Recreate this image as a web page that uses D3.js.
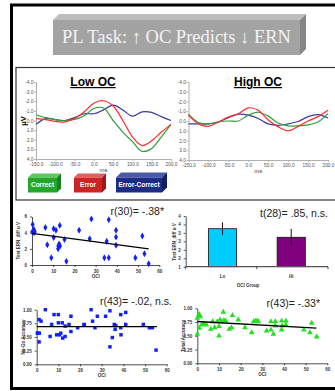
<!DOCTYPE html>
<html>
<head>
<meta charset="utf-8">
<script src="https://cdn.jsdelivr.net/npm/d3@7"></script>
<style>
  body { margin: 0; background: #fff; }
  svg { display: block; font-family: Arial, "Liberation Sans", sans-serif; }
</style>
</head>
<body>
<svg id="chart" width="335" height="391"></svg>
<script>
// ERP waveforms, one value every 25 ms
const erpTimes = [-150, -125, -100, -75, -50, -25, 0, 25, 50, 75, 100, 125, 150, 175, 200]
const erpXTicks = [-150, -100, -50, 0, 50, 100, 150, 200]
const erpYTicks = [-4, -3, -2, -1, 0, 1, 2, 3, 4]

const lowCorrect = [-0.6, -0.3, -0.1, 0.0, -0.1, -0.5, -1.25, -1.3, 0.0, 1.2, 2.2, 3.2, 2.9, 1.7, 0.4]
const lowError = [-0.2, -0.1, 0.1, 0.15, -0.2, -0.9, -1.8, -2.05, -1.5, 0.0, 1.7, 2.6, 2.1, 1.2, 0.4]
const lowDiff = [0.4, -0.2, -0.1, 0.0, -0.3, -0.7, -0.7, -1.1, -1.6, -1.1, -0.45, -0.9, -0.85, -0.4, 0.0]

const highCorrect = [-0.7, 0.15, 0.3, 0.1, 0.0, 0.0, -0.6, -0.9, -0.5, 0.2, 0.5, 0.5, 0.4, 0.1, -0.75]
const highError = [-0.6, 0.3, 0.55, 0.1, -0.4, -0.75, -1.35, -1.1, -0.1, 0.6, 1.0, 0.55, 0.0, -0.45, -1.1]
const highDiff = [0.3, 0.3, 0.3, 0.1, -0.35, -0.7, -0.6, -0.25, 0.3, 0.45, 0.3, 0.05, -0.45, -0.65, -0.3]

const legendNames = ['Correct', 'Error', 'Error-Correct']

// ERN difference by OCI
const ernOci = [0.3, 0.1, 0.9, 1.3, 6.3, 7.2, 9.1, 10.2, 10.2, 11.3, 12.4, 12.3, 13.1, 13.2, 15.3, 16.2,
  22.2, 27.2, 28.0, 34.1, 35.2, 36.2, 36.2, 39.6, 39.6, 39.6, 48.7, 52.0, 53.0, 55.0, 12.8, 1.0]
const ernDiff = [5.0, 4.1, 4.4, 4.1, 4.65, 2.5, 0.9, 4.5, 3.4, 4.3, 2.35, 2.0, 4.9, 2.35, 3.15, 0.45,
  4.3, 3.25, 5.7, 0.9, 2.95, 5.6, 0.9, 4.3, 3.45, 2.45, 0.9, 3.6, 1.4, 0.15, 2.6, 4.0]
const ernFitX = [0, 55]
const ernFitY = [3.9, 2.0]
const ernYTicks = [0, 2, 4, 6]
const ociTicks = [0, 10, 20, 30, 40, 50, 60]

// OCI group bars
const groups = ['Lo', 'Hi']
const groupMeans = [3.25, 2.74]
const groupErr = [0.38, 0.5]
const barTicks = [1, 1.5, 2, 2.5, 3, 3.5, 4]
const barTickLabels = ['1', '2', '2', '3', '3', '4', '4']

// No-Go accuracy by OCI
const nogoOci = [4.0, 0.5, 1.1, 2.0, 1.1, 0.3, 6.2, 6.9, 8.0, 10.0, 10.0, 9.2, 10.5, 11.1, 11.8, 12.0,
  13.1, 13.1, 14.9, 15.8, 15.8, 18.9, 21.8, 25.1, 25.8, 26.9, 28.0, 31.8, 33.8, 33.8, 34.9, 35.8,
  36.2, 38.8, 38.8, 38.9, 41.1, 41.1, 49.2, 52.0, 53.4, 55.1, 1.2, 36.5, 22.0]
const nogoAcc = [1.0, 0.57, 0.82, 0.79, 0.41, 0.57, 0.51, 0.73, 0.91, 0.91, 0.76, 0.54, 0.54, 0.57, 0.76, 0.48,
  0.51, 0.70, 0.73, 0.88, 0.60, 0.67, 0.73, 1.0, 0.79, 0.67, 0.88, 0.88, 0.98, 0.32, 0.49, 0.73,
  0.64, 0.91, 0.67, 0.54, 0.95, 0.73, 0.73, 0.67, 0.67, 0.26, 0.57, 0.71, 0.72]
const nogoFitX = [0, 55.5]
const nogoFitY = [0.69, 0.69]

// Total accuracy by OCI
const totOci = [0, 0, 0.8, 1.1, 1.4, 0.9, 2.0, 4.2, 6.2, 7.1, 8.0, 9.2, 10.0, 10.0, 10.5, 12.0,
  11.2, 13.1, 14.8, 15.8, 16.2, 18.9, 22.0, 25.1, 26.0, 26.9, 28.2, 32.0, 34.0, 34.0, 35.1, 36.0,
  36.0, 38.9, 38.9, 39.2, 40.9, 40.9, 49.2, 52.0, 52.8, 55.1, 12.3, 3.0, 27.5]
const totAcc = [0.82, 0.53, 0.89, 0.86, 0.85, 0.64, 0.70, 0.70, 0.62, 0.76, 0.65, 0.76, 0.50, 0.67, 0.79, 0.93,
  0.76, 0.77, 0.62, 0.65, 0.87, 0.79, 0.65, 0.56, 0.76, 0.77, 0.76, 0.59, 0.76, 0.61, 0.53, 0.76,
  0.68, 0.77, 0.61, 0.68, 0.77, 0.70, 0.61, 0.56, 0.73, 0.48, 0.78, 0.72, 0.77]
const totFitX = [0, 55]
const totFitY = [0.76, 0.64]
const accTicks = [0, 0.25, 0.5, 0.75, 1]

const svg = d3.select('#chart')

// frames
svg.append('rect').attr('x', 11.5).attr('y', 5).attr('width', 340).attr('height', 383.5)
  .attr('fill', '#fff').attr('stroke', '#000').attr('stroke-width', 3)
svg.append('rect').attr('x', 16).attr('y', 67.5).attr('width', 330).attr('height', 132.5)
  .attr('fill', '#fff').attr('stroke', '#333').attr('stroke-width', 1.2)

let box3d = function (x, y, w, h, d, front, top, side, label, size, color) {
  let g = svg.append('g')
  g.append('polygon').attr('points', `${x},${y} ${x + d},${y - d} ${x + w + d},${y - d} ${x + w},${y}`).attr('fill', top)
  g.append('polygon').attr('points', `${x + w},${y} ${x + w + d},${y - d} ${x + w + d},${y + h - d} ${x + w},${y + h}`).attr('fill', side)
  g.append('rect').attr('x', x).attr('y', y).attr('width', w).attr('height', h).attr('fill', front)
  return g.append('text').attr('x', x + w / 2).attr('y', y + h / 2).attr('dy', '0.35em')
    .attr('text-anchor', 'middle').attr('font-size', size).attr('fill', color).text(label)
}

// title banner
box3d(53, 20, 247, 35, 6, '#a3a3a3', '#bdbdbd', '#858585', 'PL Task: \u2191 OC Predicts \u2193 ERN', 18.5, '#f4f4f4')
  .attr('font-family', '"Liberation Serif", "DejaVu Serif", serif').attr('dy', '0.32em')

// ERP panels
let drawErp = function (opt) {
  let x = d3.scaleLinear().domain([-150, 200]).range([opt.left, opt.right])
  let y = d3.scaleLinear().domain([-4, 4]).range([opt.top, opt.bottom])
  let gy = svg.append('g').attr('transform', `translate(${opt.left},0)`)
    .call(d3.axisLeft(y).tickValues(erpYTicks).tickFormat(d => d.toFixed(1)).tickSize(2).tickSizeOuter(0))
  let gx = svg.append('g').attr('transform', `translate(0,${opt.bottom})`)
    .call(d3.axisBottom(x).tickValues(erpXTicks).tickFormat(d => d.toFixed(1)).tickSize(2).tickSizeOuter(0))
  for (let g of [gx, gy]) {
    g.selectAll('path,line').attr('stroke', '#b0b0b0')
    g.selectAll('text').attr('font-size', 4.8).attr('fill', '#555')
  }
  gy.selectAll('text').attr('x', -2.5)
  gx.selectAll('text').attr('y', 3.5)
  svg.append('text').attr('x', (opt.left + opt.right) / 2).attr('y', opt.bottom + 13)
    .attr('text-anchor', 'middle').attr('font-size', 6).attr('fill', '#444').text('ms')
  svg.append('text').attr('x', opt.titleX).attr('y', 86).attr('text-anchor', 'middle')
    .attr('font-size', 12).attr('font-weight', 'bold').style('text-decoration', 'underline').text(opt.title)
  let line = d3.line().x((d, i) => x(erpTimes[i])).y(d => y(d)).curve(d3.curveCatmullRom.alpha(0.5))
  opt.series.forEach(s => {
    svg.append('path').datum(s.vals).attr('d', line).attr('fill', 'none')
      .attr('stroke', s.color).attr('stroke-width', 1.2)
  })
}

drawErp({ left: 36, right: 171, top: 82, bottom: 159, title: 'Low OC', titleX: 93,
  series: [{ vals: lowDiff, color: '#3a3aa0' }, { vals: lowCorrect, color: '#2f9e38' }, { vals: lowError, color: '#ff2a2a' }] })
drawErp({ left: 188.5, right: 328, top: 82, bottom: 160, title: 'High OC', titleX: 258,
  series: [{ vals: highDiff, color: '#3a3aa0' }, { vals: highCorrect, color: '#2f9e38' }, { vals: highError, color: '#ff2a2a' }] })

svg.append('text').attr('transform', 'translate(26,121) rotate(-90)').attr('text-anchor', 'middle')
  .attr('font-size', 7.5).attr('font-weight', 'bold').text('\u03bcV')

// legend buttons
const legendStyle = [
  { x: 28, w: 29, d: 4, front: '#24a62c', top: '#5cc85f', side: '#1b7f22' },
  { x: 74, w: 28, d: 4, front: '#cc2424', top: '#e0605c', side: '#9a1a1a' },
  { x: 116, w: 46, d: 5, front: '#1c2c86', top: '#4a5aa8', side: '#121e60' }
]
legendNames.forEach((n, i) => {
  let s = legendStyle[i]
  box3d(s.x, 177.5, s.w, 15, s.d, s.front, s.top, s.side, n, 6.5, '#fff').attr('font-weight', 'bold')
})

// generic small axes for the lower charts
let smallAxis = function (g) {
  g.selectAll('path,line').attr('stroke', '#222').attr('stroke-width', 0.8)
  g.selectAll('text').attr('font-size', 4.5).attr('font-weight', 'bold').attr('fill', '#333')
}

let drawScatter = function (opt) {
  let x = d3.scaleLinear().domain([0, 60]).range([opt.left, opt.right])
  let y = d3.scaleLinear().domain(opt.yDomain).range([opt.bottom, opt.top])
  let gy = svg.append('g').attr('transform', `translate(${opt.left},0)`)
    .call(d3.axisLeft(y).tickValues(opt.yTicks).tickFormat(opt.yFormat).tickSize(2).tickSizeOuter(0))
  let gx = svg.append('g').attr('transform', `translate(0,${opt.bottom})`)
    .call(d3.axisBottom(x).tickValues(ociTicks).tickSize(2).tickSizeOuter(0))
  smallAxis(gy)
  smallAxis(gx)
  gx.selectAll('text').attr('y', 5)
  svg.append('text').attr('x', x(30)).attr('y', opt.bottom + 13).attr('text-anchor', 'middle')
    .attr('font-size', 4.5).attr('font-weight', 'bold').attr('fill', '#333').text('OCI')
  svg.append('text').attr('transform', `translate(${opt.left - 12},${(opt.top + opt.bottom) / 2}) rotate(-90)`)
    .attr('text-anchor', 'middle').attr('font-size', 4.5).attr('font-weight', 'bold').attr('fill', '#333').text(opt.yLabel)
  let pts = opt.xs.map((v, i) => [v, opt.ys[i]])
  svg.append('g').selectAll('path').data(pts).join('path')
    .attr('transform', d => `translate(${x(d[0])},${y(d[1])})`)
    .attr('d', d3.symbol().type(opt.symbol).size(opt.size))
    .attr('fill', opt.color)
  svg.append('line').attr('x1', x(opt.fitX[0])).attr('x2', x(opt.fitX[1]))
    .attr('y1', y(opt.fitY[0])).attr('y2', y(opt.fitY[1])).attr('stroke', '#000').attr('stroke-width', 1.3)
  svg.append('text').attr('x', opt.statX).attr('y', opt.statY).attr('text-anchor', 'end')
    .attr('font-size', 10.5).attr('fill', '#222').text(opt.stat)
}

drawScatter({ left: 32, right: 159.3, top: 216.5, bottom: 265, yDomain: [0, 6], yTicks: ernYTicks,
  yFormat: d3.format('d'), yLabel: 'Test ERN_diff u V', xs: ernOci, ys: ernDiff, fitX: ernFitX, fitY: ernFitY,
  symbol: d3.symbolDiamond, size: 14, color: '#1020ff', stat: 'r(30)= -.38*', statX: 164, statY: 215 })

drawScatter({ left: 36.7, right: 166.7, top: 309.7, bottom: 364.3, yDomain: [0, 1], yTicks: accTicks,
  yFormat: d3.format('.2f'), yLabel: 'No-Go Accuracy', xs: nogoOci, ys: nogoAcc, fitX: nogoFitX, fitY: nogoFitY,
  symbol: d3.symbolSquare, size: 12, color: '#1020ff', stat: 'r(43)= -.02, n.s.', statX: 172, statY: 305 })

drawScatter({ left: 197.3, right: 327.3, top: 308.3, bottom: 363.3, yDomain: [0, 1], yTicks: accTicks,
  yFormat: d3.format('.2f'), yLabel: 'Total Accuracy', xs: totOci, ys: totAcc, fitX: totFitX, fitY: totFitY,
  symbol: d3.symbolTriangle, size: 14, color: '#22e022', stat: 'r(43)= -.33*', statX: 320, statY: 307 })

// bar chart
let bx = d3.scaleBand().domain(groups).range([185.7, 328]).paddingInner(0.59).paddingOuter(0.33)
let by = d3.scaleLinear().domain([1, 4]).range([266.7, 216])
let gby = svg.append('g').attr('transform', 'translate(185.7,0)')
  .call(d3.axisLeft(by).tickValues(barTicks).tickFormat((d, i) => barTickLabels[i]).tickSize(2).tickSizeOuter(0))
smallAxis(gby)
svg.append('g').selectAll('rect').data(groups).join('rect')
  .attr('x', d => bx(d)).attr('width', bx.bandwidth())
  .attr('y', (d, i) => by(groupMeans[i])).attr('height', (d, i) => by(1) - by(groupMeans[i]))
  .attr('fill', (d, i) => ['#00ccff', '#800080'][i]).attr('stroke', '#111').attr('stroke-width', 0.8)
svg.append('g').selectAll('line').data(groups).join('line')
  .attr('x1', d => bx(d) + bx.bandwidth() / 2).attr('x2', d => bx(d) + bx.bandwidth() / 2)
  .attr('y1', (d, i) => by(groupMeans[i] + groupErr[i])).attr('y2', (d, i) => by(groupMeans[i] - groupErr[i]))
  .attr('stroke', '#111').attr('stroke-width', 1)
let edges = d3.range(groups.length + 1).map(i => bx.range()[0] + i * (bx.range()[1] - bx.range()[0]) / groups.length)
svg.append('line').attr('x1', bx.range()[0]).attr('x2', bx.range()[1]).attr('y1', by(1)).attr('y2', by(1))
  .attr('stroke', '#555').attr('stroke-width', 1.2)
svg.append('g').selectAll('line').data(edges).join('line')
  .attr('x1', d => d).attr('x2', d => d).attr('y1', by(1)).attr('y2', by(1) + 2.5)
  .attr('stroke', '#222').attr('stroke-width', 0.8)
svg.append('g').selectAll('text').data(groups).join('text')
  .attr('x', d => bx(d) + bx.bandwidth() / 2).attr('y', 278).attr('text-anchor', 'middle')
  .attr('font-size', 4.5).attr('font-weight', 'bold').attr('fill', '#333').text(d => d)
svg.append('text').attr('x', 248).attr('y', 287).attr('text-anchor', 'middle')
  .attr('font-size', 4.5).attr('font-weight', 'bold').attr('fill', '#333').text('OCI Group')
svg.append('text').attr('transform', 'translate(176,242) rotate(-90)').attr('text-anchor', 'middle')
  .attr('font-size', 4.5).attr('font-weight', 'bold').attr('fill', '#333').text('Test ERN_diff u V')
svg.append('text').attr('x', 328).attr('y', 217).attr('text-anchor', 'end')
  .attr('font-size', 10.5).attr('fill', '#222').text('t(28)= .85, n.s.')
</script>
</body>
</html>
